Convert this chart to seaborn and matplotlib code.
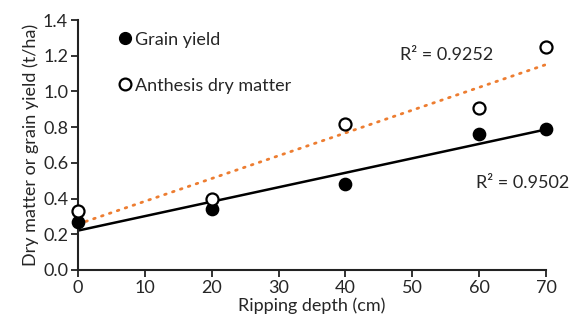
import matplotlib
matplotlib.use("Agg")
import matplotlib.pyplot as plt
import seaborn as sns
import pandas as pd
from matplotlib.lines import Line2D

depth = [0, 20, 40, 60, 70]
grain_yield = [0.27, 0.34, 0.48, 0.76, 0.79]
anthesis_dm = [0.33, 0.40, 0.82, 0.91, 1.25]
xticks = [0, 10, 20, 30, 40, 50, 60, 70]
yticks = [0.0, 0.2, 0.4, 0.6, 0.8, 1.0, 1.2, 1.4]

sns.set_style("ticks")
plt.rcParams['font.family'] = ['Lato', 'DejaVu Sans']
FS = 13

df = pd.DataFrame({"depth": depth, "grain": grain_yield, "anthesis": anthesis_dm})

fig = plt.figure(figsize=(5.81, 3.24), dpi=100)
ax = fig.add_axes([0.134, 0.167, 0.806, 0.771])

sns.regplot(data=df, x="depth", y="anthesis", ci=None, ax=ax, scatter=False,
            line_kws=dict(color="#ED7D31", lw=2, ls=(0, (0.6, 2.4)), dash_capstyle="round"))
sns.regplot(data=df, x="depth", y="grain", ci=None, ax=ax, scatter=False,
            line_kws=dict(color="black", lw=1.8))
sns.scatterplot(data=df, x="depth", y="grain", ax=ax, color="black", s=75,
                edgecolor="black", linewidth=1.2, zorder=5, clip_on=False)
sns.scatterplot(data=df, x="depth", y="anthesis", ax=ax, facecolor="white", s=75,
                edgecolor="black", linewidth=1.6, zorder=6, clip_on=False)

ax.set_xlim(0, 70)
ax.set_ylim(0, 1.4)
ax.set_xticks(xticks)
ax.set_yticks(yticks)
ax.set_yticklabels([f"{v:.1f}" for v in yticks])
ax.tick_params(labelsize=FS, width=1.3, length=5, color="#222222", pad=2)
for s in ["left", "bottom"]:
    ax.spines[s].set_linewidth(1.5)
    ax.spines[s].set_color("#222222")
sns.despine(ax=ax)
ax.set_xlabel("Ripping depth (cm)", fontsize=FS, labelpad=1)
ax.set_ylabel("Dry matter or grain yield (t/ha)", fontsize=FS, labelpad=3)

handles = [Line2D([], [], ls="none", marker="o", ms=8.5, mfc="black", mec="black"),
           Line2D([], [], ls="none", marker="o", ms=8.5, mfc="white", mec="black", mew=1.6)]
ax.legend(handles, ["Grain yield", "Anthesis dry matter"], loc="upper left",
          bbox_to_anchor=(0.065, 0.982), frameon=False, fontsize=FS,
          handletextpad=0.1, labelspacing=1.65, handlelength=1.0, borderaxespad=0)

ax.text(0.688, 0.86, "R² = 0.9252", transform=ax.transAxes, fontsize=FS, va="center")
ax.text(0.850, 0.348, "R² = 0.9502", transform=ax.transAxes, fontsize=FS, va="center")

fig.savefig("out.png", dpi=100)
